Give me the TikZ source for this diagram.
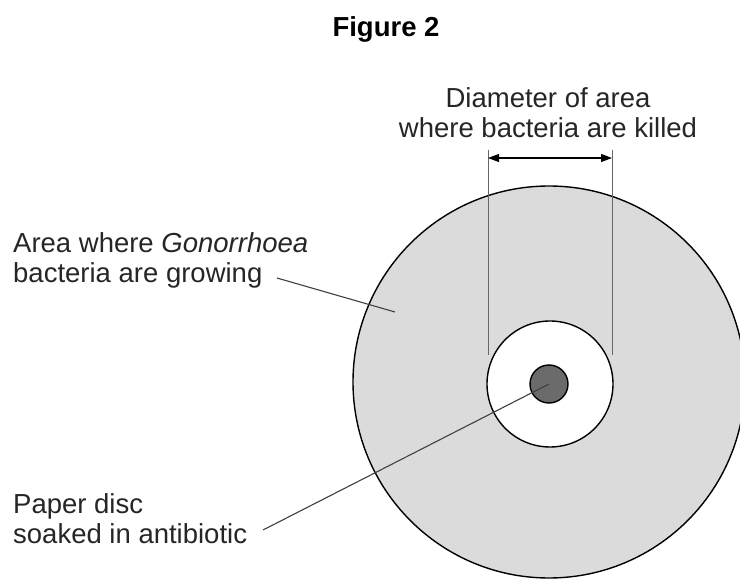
\documentclass[tikz,border=0pt]{standalone}
\usepackage{fontspec}
\setmainfont{Liberation Sans}
\usetikzlibrary{arrows.meta}
\begin{document}
\begin{tikzpicture}[x=1pt,y=-1pt,
  lbl/.style={inner sep=0pt,font=\fontsize{27.5}{30}\selectfont,text=black!85},
  leader/.style={draw=black!75,line width=1.1pt},
  dimline/.style={draw=black!60,line width=1pt},
  edge/.style={draw=black,line width=1.4pt}]
\useasboundingbox (0,0) rectangle (740,580);
\fill[white] (0,0) rectangle (740,580);
% plate
\node[edge,circle,fill=black!14,minimum size=392pt,inner sep=0pt] (plate) at (549,382) {};
\node[edge,circle,fill=white,minimum size=126pt,inner sep=0pt] (clear) at (550,384) {};
\node[edge,circle,fill=black!58,minimum size=38pt,inner sep=0pt] (disc) at (549,384) {};
% title
\node[lbl,anchor=base,font=\fontsize{27.5}{30}\selectfont\bfseries,text=black] (title) at (386,37) {Figure 2};
% diameter
\node[lbl,anchor=north,align=center] (diam) at (548,87) {Diameter of area\\where bacteria are killed};
\coordinate (lt) at (488,150);
\coordinate (lb) at (488,355);
\coordinate (rt) at (612,150);
\coordinate (rb) at (612,355);
\draw[dimline] (lt) -- (lb);
\draw[dimline] (rt) -- (rb);
\coordinate (al) at (488,158);
\coordinate (ar) at (612,158);
\draw[draw=black,line width=1.1pt,{Triangle[length=11pt,width=8pt]}-{Triangle[length=11pt,width=8pt]}] (al) -- (ar);
% labels
\node[lbl,anchor=north west,align=left] (grow) at (13,232) {Area where \textit{Gonorrhoea}\\bacteria are growing};
\node[lbl,anchor=north west,align=left] (paper) at (13,493) {Paper disc\\soaked in antibiotic};
\coordinate (growend) at (395,312);
\coordinate (growstart) at (277,278);
\draw[leader] (growstart) -- (growend);
\coordinate (paperstart) at (263,530);
\draw[leader] (paperstart) -- (disc.center);
\end{tikzpicture}
\end{document}
